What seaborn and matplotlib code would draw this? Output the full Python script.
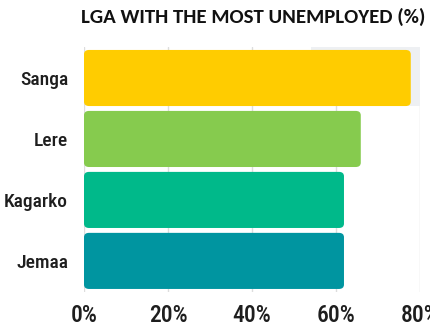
import matplotlib
matplotlib.use("Agg")
import matplotlib.pyplot as plt
import seaborn as sns
import pandas as pd
from matplotlib.patches import FancyBboxPatch, Rectangle
from matplotlib import font_manager

lgas = ["Sanga", "Lere", "Kagarko", "Jemaa"]
values = [77.8, 65.9, 61.9, 61.9]
colors = ["#FFCC00", "#86CB4E", "#00B98A", "#0095A0"]
xticks = [0, 20, 40, 60, 80]
xtick_labels = ["0%", "20%", "40%", "60%", "80%"]
title = "LGA WITH THE MOST UNEMPLOYED (%)"

sns.set_theme(style="white")
names = {f.name for f in font_manager.fontManager.ttflist}
narrow = next((n for n in ["Roboto Condensed", "Oswald", "Barlow Condensed",
                           "Fira Sans Condensed", "Archivo Narrow"] if n in names), "DejaVu Sans")
title_font = "Carlito" if "Carlito" in names else "Open Sans"
plt.rcParams["font.family"] = [narrow, "DejaVu Sans"]

df = pd.DataFrame({"lga": lgas, "value": values})

fig = plt.figure(figsize=(4.30, 3.27), dpi=100)
ax = fig.add_axes([84/430, 1-292/327, (420-84)/430, (292-46.9)/327])

sns.barplot(data=df, x="value", y="lga", hue="lga", palette=colors,
            order=lgas, hue_order=lgas, width=0.92, legend=False, ax=ax,
            saturation=1, zorder=3)

# round bar corners
for p in list(ax.patches):
    x, y = p.get_x(), p.get_y()
    w, h = p.get_width(), p.get_height()
    fc = p.get_facecolor()
    p.remove()
    ax.add_patch(FancyBboxPatch((x, y), w, h,
                                boxstyle="round,pad=0,rounding_size=1.2",
                                mutation_aspect=0.06, facecolor=fc,
                                edgecolor="none", zorder=3))

ax.add_patch(Rectangle((54, -0.52), 27, 0.98, facecolor="#EEF0F3",
                       edgecolor="none", zorder=1))

ax.set_xlim(0, 80)
ax.set_ylim(3.51, -0.51)
ax.set_xticks(xticks)
ax.set_xticklabels(xtick_labels, fontsize=17, fontweight="medium", color="#1E1E1E")
ax.set_yticks(range(len(lgas)))
ax.set_yticklabels(lgas, fontsize=14, fontweight="medium", color="#1E1E1E")
ax.tick_params(axis="x", length=0, pad=9)
ax.tick_params(axis="y", length=0, pad=11.5)
ax.set_xlabel("")
ax.set_ylabel("")
for s in ax.spines.values():
    s.set_visible(False)
ax.grid(axis="x", color="#DDDDDD", linewidth=1, zorder=0)
ax.set_axisbelow(True)

fig.text(253/430, 1-17/327, title, ha="center", va="center",
         fontsize=15, fontweight="bold", color="#111111", family=title_font)

fig.savefig("out.png", dpi=100)
